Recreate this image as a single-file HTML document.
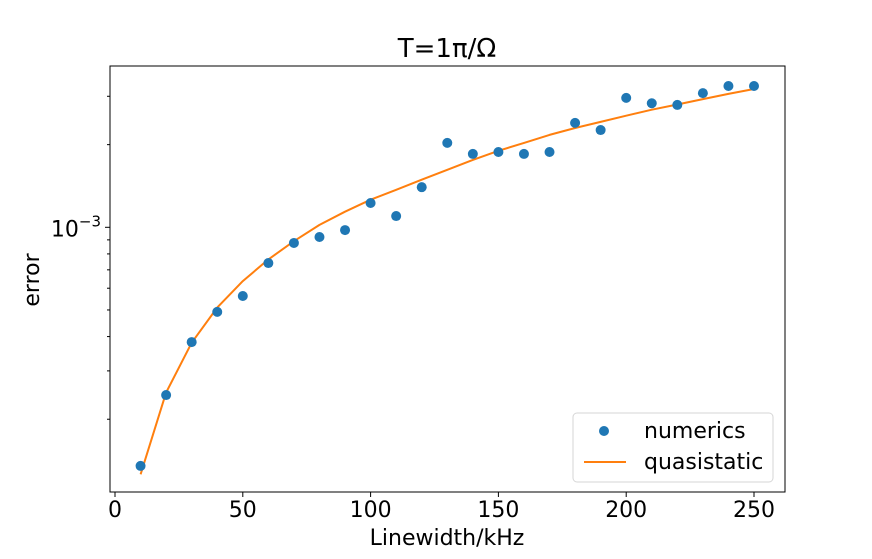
<!DOCTYPE html>
<html><head><meta charset="utf-8"><style>
body{margin:0;background:#fff;}
svg text{font-family:"DejaVu Sans","Liberation Sans",sans-serif;fill:#000;}
</style></head><body>
<svg id="chart" width="872" height="554" xmlns="http://www.w3.org/2000/svg">
<text x="447" y="57" font-size="26" text-anchor="middle">T=1π/Ω</text>
<g id="plot"></g>
<text x="447" y="545" font-size="22" text-anchor="middle">Linewidth/kHz</text>
<text transform="translate(39,280) rotate(-90)" font-size="22" text-anchor="middle">error</text>
<g>
<rect x="573" y="413" width="200" height="69" rx="4" fill="#fff" stroke="#ccc" stroke-opacity="0.8"/>
<circle cx="604" cy="431" r="5" fill="#1f77b4"/>
<text x="644" y="438" font-size="22">numerics</text>
<line x1="584" y1="462" x2="626" y2="462" stroke="#ff7f0e" stroke-width="2"/>
<text x="644" y="469" font-size="22">quasistatic</text>
</g>
</svg>
<script>
const xs = [10,20,30,40,50,60,70,80,90,100,110,120,130,140,150,160,170,180,190,200,210,220,230,240,250];
const numerics = [1.352e-4,2.45e-4,3.82e-4,4.92e-4,5.62e-4,7.41e-4,8.77e-4,9.22e-4,9.77e-4,1.226e-3,1.099e-3,1.40e-3,2.03e-3,1.85e-3,1.88e-3,1.85e-3,1.88e-3,2.40e-3,2.26e-3,2.96e-3,2.83e-3,2.79e-3,3.08e-3,3.27e-3,3.27e-3];
const quasistatic = [1.26e-4,2.5e-4,3.8e-4,5.1e-4,6.37e-4,7.64e-4,8.9e-4,1.02e-3,1.14e-3,1.26e-3,1.37e-3,1.49e-3,1.62e-3,1.76e-3,1.9e-3,2.03e-3,2.17e-3,2.3e-3,2.42e-3,2.55e-3,2.68e-3,2.8e-3,2.93e-3,3.06e-3,3.19e-3];
const xTicks = [0,50,100,150,200,250];
const yMinorTicks = [2e-4,3e-4,4e-4,5e-4,6e-4,7e-4,8e-4,9e-4,2e-3,3e-3];

const L=110,R=785,T=66,B=492;
const xScale = v => 115 + v*(754-115)/250;
const yScale = v => 227.3 - (Math.log10(v)+3)*274.6;
const NS="http://www.w3.org/2000/svg";
const g=document.getElementById('plot');
function mk(tag,attrs){const e=document.createElementNS(NS,tag);for(const k in attrs)e.setAttribute(k,attrs[k]);g.appendChild(e);return e;}

let d=xs.map((x,i)=>(i?'L':'M')+xScale(x).toFixed(1)+','+yScale(quasistatic[i]).toFixed(1)).join(' ');
const ln=mk('path',{d:d,fill:'none',stroke:'#ff7f0e','stroke-width':2,'stroke-linejoin':'round'});


xs.forEach((x,i)=>{
  const c=mk('circle',{cx:xScale(x),cy:yScale(numerics[i]),r:5,fill:'#1f77b4'});
  
  
});
const fr=mk('rect',{x:L,y:T,width:R-L,height:B-T,fill:'none',stroke:'#000','stroke-width':1});


xTicks.forEach(v=>{
  const x=xScale(v);
  const t=mk('line',{x1:x,y1:B,x2:x,y2:B+5,stroke:'#000'});
  
  
  const lb=mk('text',{x:x,y:B+25,'font-size':22,'text-anchor':'middle'});
  lb.textContent=v;
  
  
});
yMinorTicks.forEach(v=>{
  const y=yScale(v);
  const t=mk('line',{x1:L-3,y1:y,x2:L,y2:y,stroke:'#000'});
  
  
});
const yMaj=yScale(1e-3);
const mt=mk('line',{x1:L-5,y1:yMaj,x2:L,y2:yMaj,stroke:'#000'});


const yl=mk('text',{x:L-9,y:yMaj+9,'font-size':22,'text-anchor':'end'});
yl.innerHTML='10<tspan dy="-10" font-size="15">−3</tspan>';


</script>
</body></html>
